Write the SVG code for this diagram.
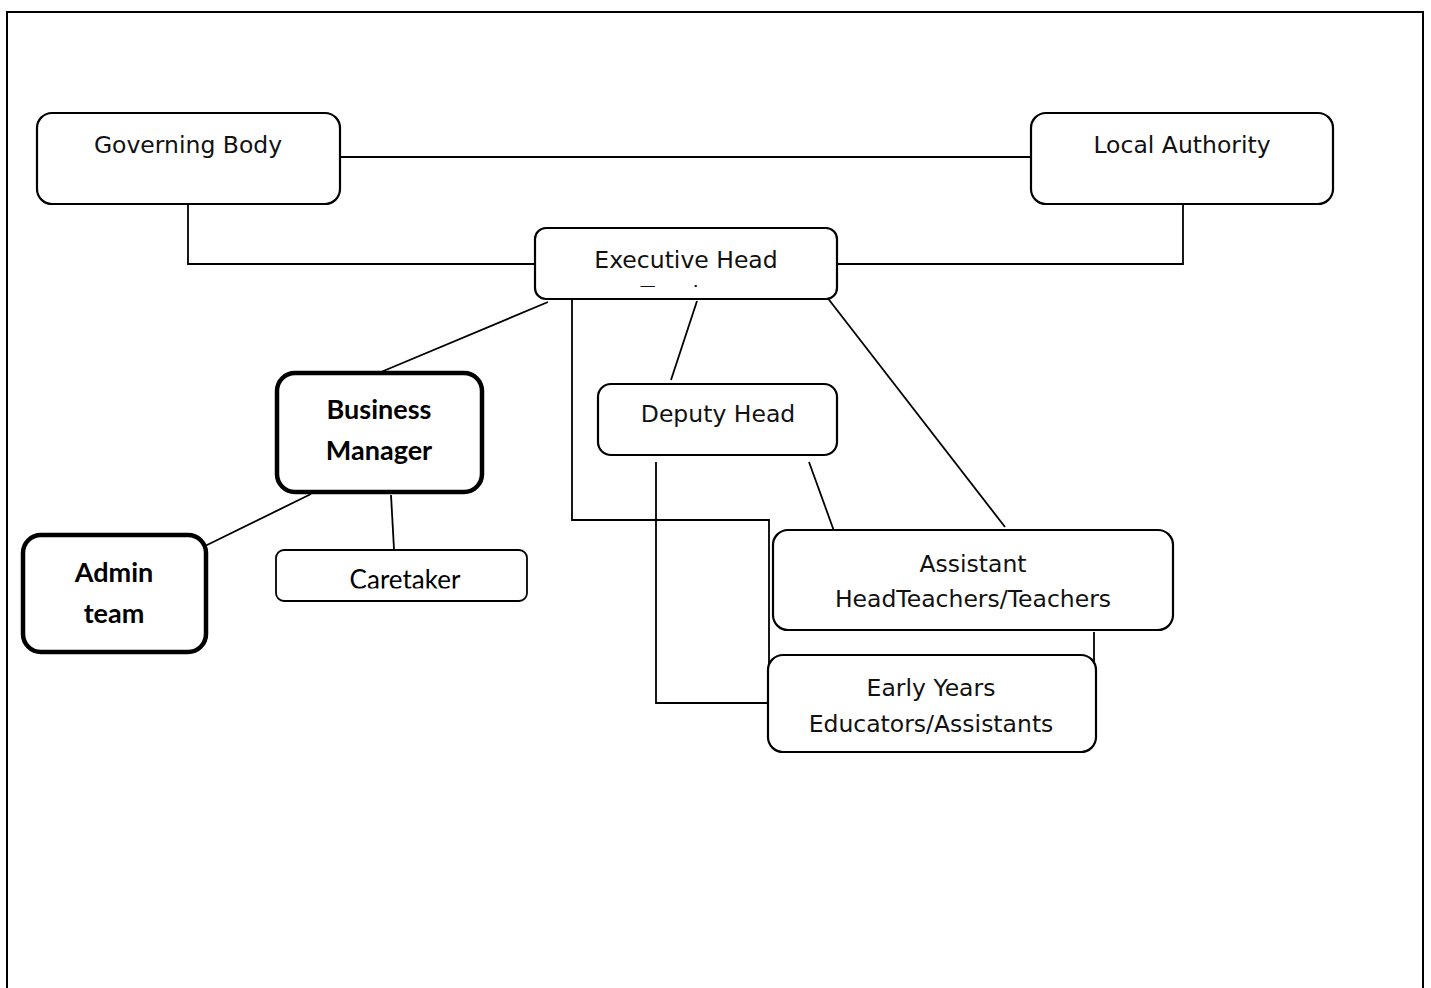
<svg xmlns="http://www.w3.org/2000/svg" width="1431" height="988" viewBox="0 0 1431 988">
<style>
.box{fill:#fff;stroke:#000;stroke-width:2.2}
.thick{fill:#fff;stroke:#000;stroke-width:4.5}
.thin{fill:#fff;stroke:#000;stroke-width:1.8}
.lbl{font-family:"DejaVu Sans",sans-serif;font-size:23.5px;fill:#111;text-anchor:middle}
.bold{font-family:Lato,"Open Sans",sans-serif;font-weight:bold;font-size:27px;fill:#000;text-anchor:middle}
.reg{font-family:Lato,"Open Sans",sans-serif;font-size:26px;fill:#000;text-anchor:middle}
.conn{fill:none;stroke:#000;stroke-width:1.8}
</style>
<defs>
<clipPath id="clipExec"><rect x="535" y="228" width="302" height="59"/></clipPath>
<clipPath id="clipCare"><rect x="276" y="550" width="252" height="38.5"/></clipPath>
</defs>
<rect x="0" y="0" width="1431" height="988" fill="#fff"/>
<path d="M7,988 V12 H1423 V988" fill="none" stroke="#000" stroke-width="2"/>
<g id="connectors">
<line class="conn" x1="340" y1="157" x2="1031" y2="157"/>
<polyline class="conn" points="188,204 188,264 535,264"/>
<polyline class="conn" points="1183,204 1183,264 837,264"/>
<line class="conn" x1="548" y1="302" x2="381" y2="372"/>
<polyline class="conn" points="572,300 572,520 769,520 769,703"/>
<line class="conn" x1="697" y1="301" x2="671" y2="380"/>
<line class="conn" x1="823" y1="292" x2="1005" y2="527"/>
<line class="conn" x1="809" y1="462" x2="834" y2="531"/>
<polyline class="conn" points="656,462 656,703 768,703"/>
<line class="conn" x1="311" y1="494" x2="205" y2="546"/>
<line class="conn" x1="391" y1="495" x2="394" y2="549"/>
<line class="conn" x1="1094" y1="632" x2="1094" y2="662"/>
</g>
<g id="governing-body">
<rect class="box" x="37" y="113" width="303" height="91" rx="15"/>
<text class="lbl" x="188" y="153">Governing Body</text>
</g>
<g id="local-authority">
<rect class="box" x="1031" y="113" width="302" height="91" rx="15"/>
<text class="lbl" x="1182" y="153">Local Authority</text>
</g>
<g id="executive-head">
<rect class="box" x="535" y="228" width="302" height="71" rx="11" stroke-width="2.6"/>
<g clip-path="url(#clipExec)">
<text class="lbl" x="686" y="268">Executive Head</text>
<text class="lbl" x="686" y="303">Teacher</text>
</g>
</g>
<g id="deputy-head">
<rect class="box" x="598" y="384" width="239" height="71" rx="13"/>
<text class="lbl" x="718" y="422">Deputy Head</text>
</g>
<g id="business-manager">
<rect class="thick" x="277" y="373" width="205" height="119" rx="18"/>
<text class="bold" x="379" y="419">Business</text>
<text class="bold" x="379" y="460">Manager</text>
</g>
<g id="admin-team">
<rect class="thick" x="23" y="535" width="183" height="117" rx="18"/>
<text class="bold" x="114" y="582">Admin</text>
<text class="bold" x="114" y="623">team</text>
</g>
<g id="caretaker">
<rect class="thin" x="276" y="550" width="251" height="51" rx="8"/>
<g clip-path="url(#clipCare)">
<text class="reg" x="405" y="589">Caretaker</text>
</g>
</g>
<g id="assistant-head">
<rect class="box" x="773" y="530" width="400" height="100" rx="15"/>
<text class="lbl" x="973" y="572">Assistant</text>
<text class="lbl" x="973" y="607">HeadTeachers/Teachers</text>
</g>
<g id="early-years">
<rect class="box" x="768" y="655" width="328" height="97" rx="15"/>
<text class="lbl" x="931" y="696">Early Years</text>
<text class="lbl" x="931" y="732">Educators/Assistants</text>
</g>
</svg>
